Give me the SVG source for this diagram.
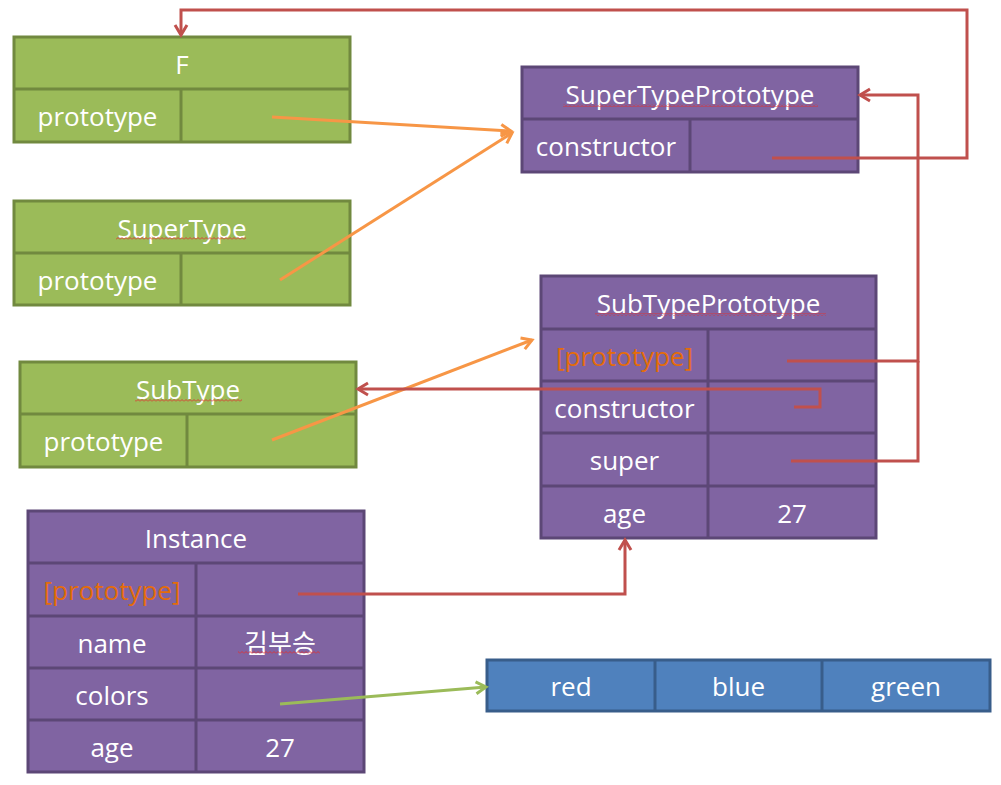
<svg xmlns="http://www.w3.org/2000/svg" width="1001" height="785" viewBox="0 0 1001 785">
<style>
.g{fill:#9BBB59;stroke:#71893F;stroke-width:3}
.gl{stroke:#71893F;stroke-width:3}
.p{fill:#8064A2;stroke:#5C4776;stroke-width:3}
.pl{stroke:#5C4776;stroke-width:3}
.b{fill:#4F81BD;stroke:#385D8A;stroke-width:3}
.bl{stroke:#385D8A;stroke-width:3}
text{font-family:"Open Sans","Noto Sans CJK KR",sans-serif;font-size:26px;fill:#FFFFFF;text-anchor:middle}
text.o{fill:#E46C0A}
.red{fill:none;stroke:#C0504D;stroke-width:3}
.or{fill:none;stroke:#F79646;stroke-width:3}
.gr{fill:none;stroke:#9BBB59;stroke-width:3}
</style>
<defs>
<pattern id="squig" width="4" height="3" patternUnits="userSpaceOnUse">
<path d="M0,2.5 L2,0.5 L4,2.5" fill="none" stroke="#E03030" stroke-width="0.9"/>
</pattern>
<marker id="ar" markerUnits="userSpaceOnUse" markerWidth="20" markerHeight="20" viewBox="-12 -10 14 20" refX="0" refY="0" orient="auto">
<path d="M-10,-6 L0,0 L-10,6" fill="none" stroke="#C0504D" stroke-width="3"/>
</marker>
<marker id="ao" markerUnits="userSpaceOnUse" markerWidth="20" markerHeight="20" viewBox="-12 -10 14 20" refX="0" refY="0" orient="auto">
<path d="M-10,-6 L0,0 L-10,6" fill="none" stroke="#F79646" stroke-width="3"/>
</marker>
<marker id="ag" markerUnits="userSpaceOnUse" markerWidth="20" markerHeight="20" viewBox="-12 -10 14 20" refX="0" refY="0" orient="auto">
<path d="M-10,-6 L0,0 L-10,6" fill="none" stroke="#9BBB59" stroke-width="3"/>
</marker>
</defs>
<rect width="1001" height="785" fill="#FFFFFF"/>

<g id="F">
<rect class="g" x="14" y="37" width="336" height="105"/>
<line class="gl" x1="14" y1="89" x2="350" y2="89"/>
<line class="gl" x1="181" y1="89" x2="181" y2="142"/>
<text x="182" y="73.5">F</text>
<text x="97.5" y="126">prototype</text>
</g>

<g id="SuperType">
<rect class="g" x="14" y="201" width="336" height="104"/>
<line class="gl" x1="14" y1="253" x2="350" y2="253"/>
<line class="gl" x1="181" y1="253" x2="181" y2="305"/>
<text x="182" y="237.5">SuperType</text>
<rect x="116" y="237" width="130" height="3" fill="url(#squig)"/>
<text x="97.5" y="289.5">prototype</text>
</g>

<g id="SubType">
<rect class="g" x="20" y="362" width="336" height="105"/>
<line class="gl" x1="20" y1="414" x2="356" y2="414"/>
<line class="gl" x1="187" y1="414" x2="187" y2="467"/>
<text x="188" y="398.5">SubType</text>
<rect x="135" y="399" width="107" height="3" fill="url(#squig)"/>
<text x="103.5" y="451">prototype</text>
</g>

<g id="Instance">
<rect class="p" x="28" y="511" width="336" height="261"/>
<line class="pl" x1="28" y1="563" x2="364" y2="563"/>
<line class="pl" x1="28" y1="616" x2="364" y2="616"/>
<line class="pl" x1="28" y1="668" x2="364" y2="668"/>
<line class="pl" x1="28" y1="720" x2="364" y2="720"/>
<line class="pl" x1="196" y1="563" x2="196" y2="772"/>
<text x="196" y="547.5">Instance</text>
<text class="o" x="112" y="600">[prototype]</text>
<text x="112" y="652.5">name</text>
<text x="280" y="652.5">김부승</text>
<rect x="238" y="651" width="82" height="3" fill="url(#squig)"/>
<text x="112" y="704.5">colors</text>
<text x="112" y="756.5">age</text>
<text x="280" y="756.5">27</text>
</g>

<g id="SuperTypePrototype">
<rect class="p" x="522" y="67" width="336" height="105"/>
<line class="pl" x1="522" y1="119" x2="858" y2="119"/>
<line class="pl" x1="690" y1="119" x2="690" y2="172"/>
<text x="690" y="103.5">SuperTypePrototype</text>
<rect x="563" y="104" width="255" height="3" fill="url(#squig)"/>
<text x="606" y="156">constructor</text>
</g>

<g id="SubTypePrototype">
<rect class="p" x="541" y="276" width="335" height="262"/>
<line class="pl" x1="541" y1="329" x2="876" y2="329"/>
<line class="pl" x1="541" y1="381" x2="876" y2="381"/>
<line class="pl" x1="541" y1="433" x2="876" y2="433"/>
<line class="pl" x1="541" y1="486" x2="876" y2="486"/>
<line class="pl" x1="708" y1="329" x2="708" y2="538"/>
<text x="708.5" y="313">SubTypePrototype</text>
<rect x="595" y="313" width="231" height="3" fill="url(#squig)"/>
<text class="o" x="624.5" y="365.5">[prototype]</text>
<text x="624.5" y="417.5">constructor</text>
<text x="624.5" y="470">super</text>
<text x="624.5" y="522.5">age</text>
<text x="792" y="522.5">27</text>
</g>

<g id="colorsArray">
<rect class="b" x="487" y="660" width="503" height="51"/>
<line class="bl" x1="655" y1="660" x2="655" y2="711"/>
<line class="bl" x1="822" y1="660" x2="822" y2="711"/>
<text x="571" y="696">red</text>
<text x="738.5" y="696">blue</text>
<text x="906" y="696">green</text>
</g>

<g id="connectors">
<path class="or" d="M272,117 L511,131" marker-end="url(#ao)"/>
<path class="or" d="M280,280 L512,133" marker-end="url(#ao)"/>
<path class="or" d="M272,440 L532,340" marker-end="url(#ao)"/>
<path class="gr" d="M280,704 L486,687" marker-end="url(#ag)"/>
<path class="red" d="M772,158 L967,158 L967,10 L181,10 L181,35" marker-end="url(#ar)"/>
<path class="red" d="M787,361 L918,361 L918,95 L860,95" marker-end="url(#ar)"/>
<path class="red" d="M791,461 L918,461 L918,361"/>
<path class="red" d="M794,407 L820,407 L820,389 L358,389" marker-end="url(#ar)"/>
<path class="red" d="M298,594 L625,594 L625,540" marker-end="url(#ar)"/>
</g>
</svg>
